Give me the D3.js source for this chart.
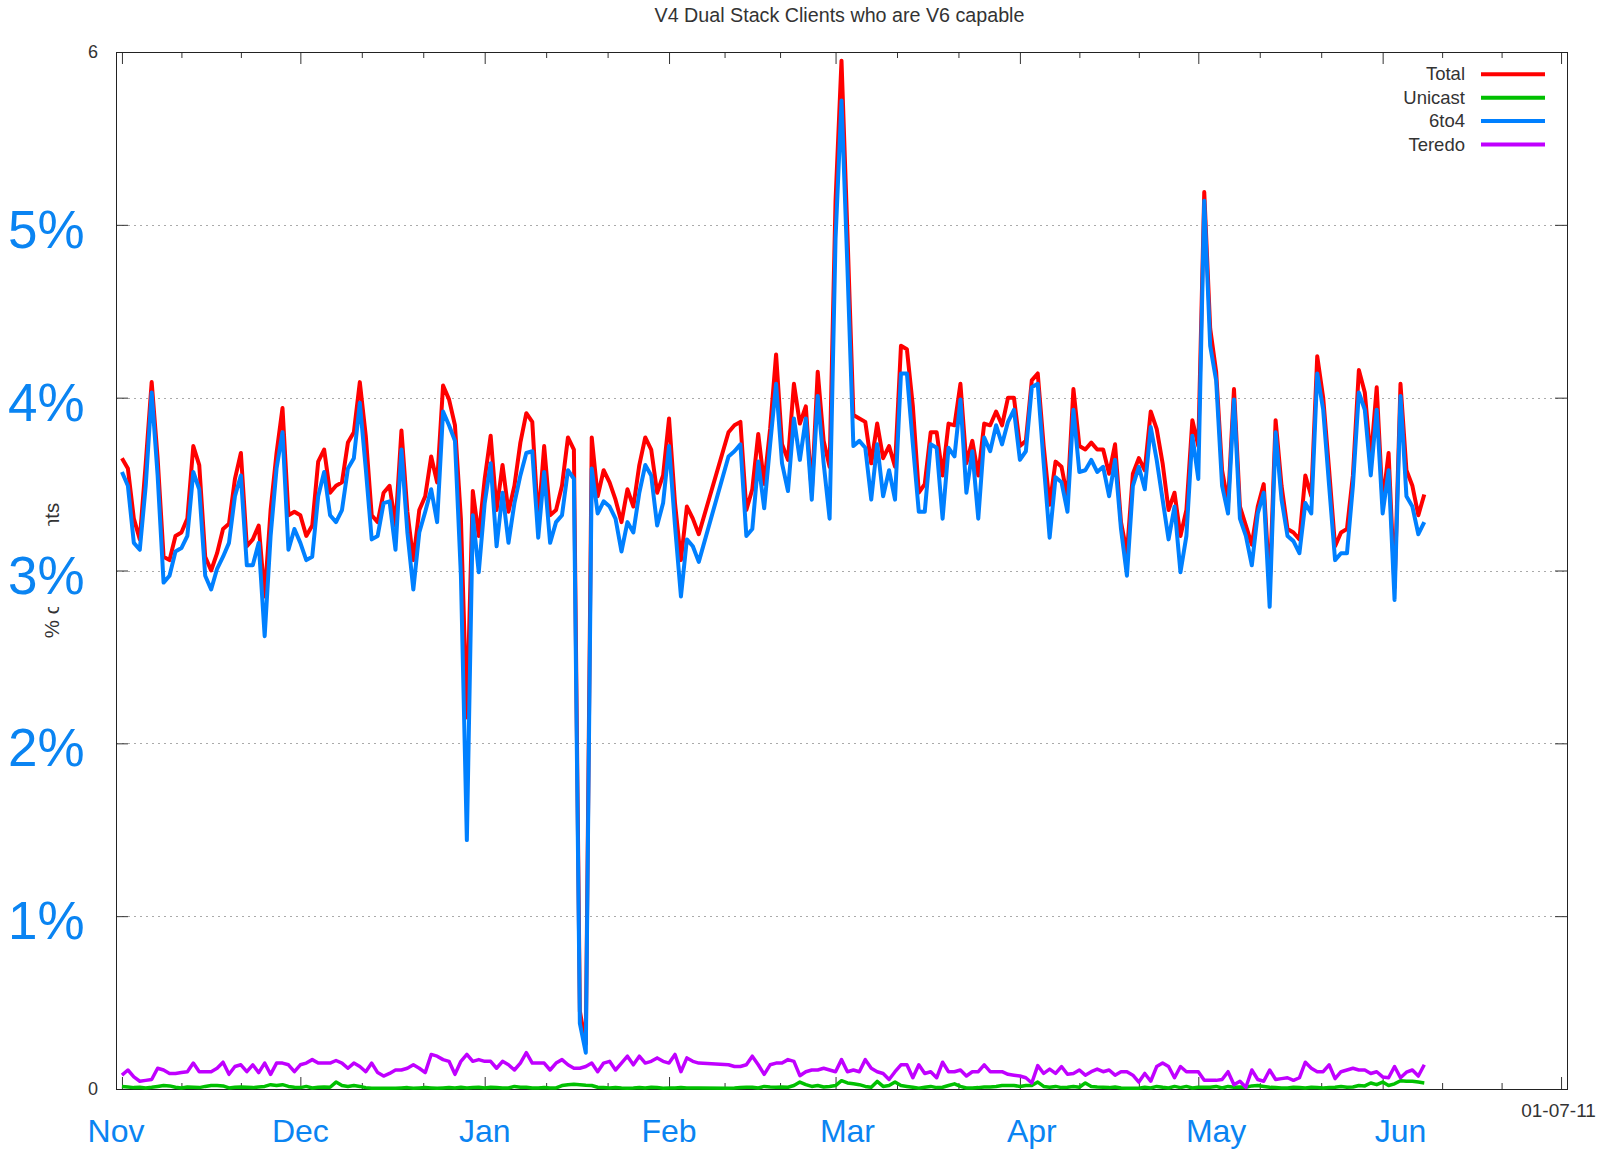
<!DOCTYPE html>
<head>
  <meta charset="utf-8">
  <script src="https://d3js.org/d3.v7.min.js"></script>
  <style>
    body { margin: 0; background: #fff; }
    text { font-family: "Liberation Sans", Arial, sans-serif; }
  </style>
</head>
<body>
<svg width="1614" height="1153"></svg>
<script>

  // daily samples from 1 Nov 2010; days 98..101 (early Feb) are missing, the plot just joins across
  const start = new Date(2010, 10, 1);
  const days = d3.range(0, 98).concat(d3.range(102, 220));

  const total = [
    3.65, 3.59, 3.30, 3.18, 3.62, 4.09, 3.65, 3.08, 3.06, 3.20,
    3.22, 3.30, 3.72, 3.61, 3.08, 3.00, 3.10, 3.24, 3.27, 3.53,
    3.68, 3.14, 3.18, 3.26, 2.85, 3.35, 3.68, 3.94, 3.32, 3.34,
    3.32, 3.20, 3.26, 3.63, 3.70, 3.45, 3.49, 3.51, 3.74, 3.80,
    4.09, 3.78, 3.32, 3.28, 3.45, 3.49, 3.26, 3.81, 3.34, 3.06,
    3.35, 3.43, 3.66, 3.51, 4.07, 3.99, 3.84, 3.30, 2.15, 3.46,
    3.20, 3.53, 3.78, 3.35, 3.61, 3.34, 3.49, 3.74, 3.91, 3.86,
    3.28, 3.72, 3.32, 3.35, 3.49, 3.77, 3.70, 0.45, 0.26, 3.77,
    3.43, 3.58, 3.51, 3.41, 3.28, 3.47, 3.37, 3.61, 3.77, 3.70,
    3.45, 3.55, 3.88, 3.39, 3.06, 3.37, 3.30, 3.21,
    3.80, 3.84, 3.86, 3.35, 3.47, 3.79, 3.50, 3.82,
    4.25, 3.73, 3.64, 4.08, 3.85, 3.95, 3.45, 4.15, 3.75, 3.60,
    5.14, 5.95, 4.95, 3.90, 3.88, 3.86, 3.62, 3.85, 3.65, 3.72,
    3.60, 4.30, 4.28, 3.95, 3.45, 3.50, 3.80, 3.80, 3.55, 3.85,
    3.84, 4.08, 3.62, 3.75, 3.55, 3.85, 3.84, 3.92, 3.84, 4.00,
    4.00, 3.72, 3.75, 4.10, 4.14, 3.72, 3.38, 3.63, 3.60, 3.42,
    4.05, 3.72, 3.70, 3.74, 3.70, 3.70, 3.56, 3.73, 3.28, 3.10,
    3.56, 3.65, 3.58, 3.92, 3.82, 3.62, 3.35, 3.45, 3.20, 3.35,
    3.87, 3.72, 5.19, 4.40, 4.15, 3.58, 3.39, 4.05, 3.37, 3.26,
    3.15, 3.37, 3.50, 2.90, 3.87, 3.49, 3.24, 3.22, 3.18, 3.55,
    3.43, 4.24, 4.00, 3.58, 3.14, 3.22, 3.24, 3.55, 4.16, 4.03,
    3.64, 4.06, 3.39, 3.68, 2.90, 4.08, 3.58, 3.49, 3.32, 3.44
  ];

  const unicast = [
    0.015, 0.012, 0.008, 0.01, 0.006, 0.01, 0.015, 0.02, 0.018, 0.01,
    0.006, 0.012, 0.01, 0.008, 0.015, 0.02, 0.02, 0.018, 0.006, 0.01,
    0.012, 0.01, 0.008, 0.012, 0.015, 0.025, 0.02, 0.025, 0.015, 0.01,
    0.008, 0.015, 0.006, 0.01, 0.012, 0.01, 0.04, 0.02, 0.015, 0.02,
    0.015, 0.008, 0.004, 0.004, 0.004, 0.004, 0.004, 0.006, 0.008, 0.004,
    0.006, 0.008, 0.006, 0.004, 0.006, 0.008, 0.006, 0.01, 0.006, 0.008,
    0.01, 0.006, 0.01, 0.008, 0.006, 0.006, 0.015, 0.01, 0.01, 0.006,
    0.006, 0.008, 0.006, 0.006, 0.02, 0.025, 0.027, 0.025, 0.022, 0.02,
    0.01, 0.008, 0.006, 0.008, 0.006, 0.005, 0.006, 0.008, 0.006, 0.01,
    0.008, 0.005, 0.006, 0.006, 0.008, 0.006, 0.006, 0.006,
    0.005, 0.006, 0.008, 0.01, 0.01, 0.006, 0.015, 0.012,
    0.01, 0.012, 0.01, 0.02, 0.04, 0.025, 0.015, 0.02, 0.012, 0.015,
    0.02, 0.048, 0.035, 0.03, 0.025, 0.015, 0.01, 0.044, 0.015, 0.02,
    0.04, 0.02, 0.015, 0.01, 0.005, 0.01, 0.015, 0.008, 0.01, 0.02,
    0.03, 0.015, 0.006, 0.006, 0.008, 0.012, 0.012, 0.015, 0.02, 0.02,
    0.02, 0.015, 0.02, 0.02, 0.04, 0.015, 0.01, 0.015, 0.008, 0.01,
    0.015, 0.01, 0.035, 0.015, 0.012, 0.01, 0.008, 0.012, 0.006, 0.004,
    0.004, 0.004, 0.01, 0.006, 0.015, 0.01, 0.006, 0.015, 0.008, 0.015,
    0.006, 0.01, 0.01, 0.01, 0.015, 0.006, 0.015, 0.01, 0.012, 0.01,
    0.018, 0.02, 0.015, 0.01, 0.008, 0.006, 0.006, 0.01, 0.008, 0.006,
    0.01, 0.008, 0.006, 0.008, 0.01, 0.015, 0.01, 0.012, 0.02, 0.018,
    0.035, 0.025, 0.04, 0.02, 0.03, 0.048, 0.045, 0.045, 0.04, 0.035
  ];

  const sixToFour = [
    3.57, 3.49, 3.16, 3.12, 3.49, 4.03, 3.55, 2.93, 2.97, 3.11,
    3.13, 3.20, 3.57, 3.47, 2.97, 2.89, 3.01, 3.08, 3.16, 3.43,
    3.55, 3.03, 3.03, 3.16, 2.62, 3.20, 3.59, 3.80, 3.12, 3.24,
    3.16, 3.06, 3.08, 3.43, 3.57, 3.32, 3.28, 3.35, 3.59, 3.65,
    3.97, 3.59, 3.18, 3.20, 3.39, 3.40, 3.12, 3.70, 3.22, 2.89,
    3.22, 3.34, 3.47, 3.28, 3.92, 3.84, 3.75, 2.97, 1.44, 3.32,
    2.99, 3.39, 3.62, 3.14, 3.45, 3.16, 3.39, 3.55, 3.68, 3.69,
    3.19, 3.57, 3.16, 3.28, 3.32, 3.58, 3.53, 0.38, 0.21, 3.59,
    3.33, 3.40, 3.37, 3.30, 3.11, 3.28, 3.22, 3.45, 3.61, 3.55,
    3.26, 3.39, 3.72, 3.26, 2.85, 3.18, 3.14, 3.05,
    3.66, 3.69, 3.73, 3.20, 3.24, 3.63, 3.36, 3.73,
    4.08, 3.62, 3.46, 3.88, 3.64, 3.88, 3.41, 4.01, 3.62, 3.30,
    4.92, 5.72, 4.75, 3.72, 3.75, 3.71, 3.41, 3.73, 3.43, 3.58,
    3.41, 4.14, 4.14, 3.73, 3.34, 3.34, 3.73, 3.71, 3.30, 3.71,
    3.66, 3.99, 3.45, 3.69, 3.30, 3.77, 3.69, 3.84, 3.73, 3.86,
    3.93, 3.64, 3.69, 4.06, 4.08, 3.62, 3.19, 3.54, 3.51, 3.34,
    3.93, 3.57, 3.58, 3.64, 3.57, 3.60, 3.43, 3.64, 3.24, 2.97,
    3.49, 3.60, 3.47, 3.83, 3.64, 3.41, 3.18, 3.37, 2.99, 3.20,
    3.78, 3.53, 5.14, 4.30, 4.10, 3.49, 3.33, 3.99, 3.30, 3.20,
    3.03, 3.33, 3.45, 2.79, 3.80, 3.41, 3.20, 3.17, 3.10, 3.39,
    3.33, 4.14, 3.93, 3.49, 3.06, 3.10, 3.10, 3.49, 4.03, 3.93,
    3.55, 3.93, 3.33, 3.58, 2.83, 4.01, 3.43, 3.37, 3.21, 3.28
  ];

  const teredo = [
    0.08, 0.11, 0.07, 0.045, 0.05, 0.055, 0.12, 0.11, 0.09, 0.09,
    0.095, 0.10, 0.15, 0.10, 0.10, 0.10, 0.12, 0.155, 0.085, 0.13,
    0.14, 0.10, 0.14, 0.095, 0.15, 0.085, 0.15, 0.15, 0.14, 0.10,
    0.14, 0.15, 0.17, 0.15, 0.15, 0.15, 0.165, 0.15, 0.12, 0.15,
    0.13, 0.10, 0.15, 0.095, 0.075, 0.09, 0.11, 0.11, 0.12, 0.14,
    0.12, 0.095, 0.20, 0.19, 0.17, 0.16, 0.085, 0.16, 0.20, 0.16,
    0.17, 0.16, 0.16, 0.12, 0.16, 0.14, 0.11, 0.15, 0.21, 0.15,
    0.15, 0.15, 0.11, 0.15, 0.17, 0.14, 0.12, 0.12, 0.13, 0.15,
    0.10, 0.15, 0.16, 0.11, 0.15, 0.19, 0.14, 0.19, 0.15, 0.16,
    0.18, 0.16, 0.15, 0.20, 0.10, 0.18, 0.16, 0.15,
    0.14, 0.13, 0.13, 0.14, 0.19, 0.14, 0.085, 0.14,
    0.15, 0.15, 0.17, 0.16, 0.077, 0.10, 0.11, 0.11, 0.12, 0.11,
    0.10, 0.17, 0.10, 0.11, 0.10, 0.17, 0.12, 0.10, 0.09, 0.055,
    0.10, 0.14, 0.14, 0.065, 0.14, 0.09, 0.10, 0.065, 0.155, 0.10,
    0.10, 0.11, 0.075, 0.10, 0.10, 0.14, 0.10, 0.10, 0.10, 0.085,
    0.08, 0.075, 0.065, 0.035, 0.135, 0.09, 0.115, 0.09, 0.13, 0.085,
    0.09, 0.11, 0.08, 0.10, 0.115, 0.10, 0.11, 0.08, 0.10, 0.10,
    0.08, 0.04, 0.09, 0.045, 0.13, 0.15, 0.13, 0.065, 0.13, 0.10,
    0.10, 0.10, 0.05, 0.05, 0.05, 0.055, 0.10, 0.025, 0.045, 0.01,
    0.11, 0.055, 0.045, 0.11, 0.055, 0.06, 0.065, 0.05, 0.065, 0.155,
    0.12, 0.10, 0.10, 0.14, 0.06, 0.10, 0.11, 0.12, 0.11, 0.11,
    0.09, 0.10, 0.07, 0.065, 0.13, 0.065, 0.097, 0.11, 0.075, 0.14
  ];

  const seriesNames = ["Total", "Unicast", "6to4", "Teredo"];
  const seriesColors = ["#ff0000", "#00c000", "#0080ff", "#c000ff"];
  const seriesWidths = [4, 3.5, 4, 3.5];

  // big annotation labels laid over the plot
  const monthLabels = ["Nov", "Dec", "Jan", "Feb", "Mar", "Apr", "May", "Jun"];
  const monthAnchors = ["2010-10-31", "2010-12-01", "2011-01-01", "2011-02-01",
                        "2011-03-03", "2011-04-03", "2011-05-04", "2011-06-04"];
  const percentValues = [1, 2, 3, 4, 5];
  const percentLabels = ["1%", "2%", "3%", "4%", "5%"];

  const svg = d3.select("svg"),
    pLeft = 116, pRight = 1567, pTop = 52, pBottom = 1089,
    ink = "#333",
    blue = "#0a84f2";

  svg.append("rect").attr("width", 1614).attr("height", 1153).attr("fill", "#fff");

  let x = d3.scaleTime()
    .domain([d3.timeDay.offset(start, -1), new Date(2011, 6, 2)])
    .range([pLeft, pRight]);
  let y = d3.scaleLinear().domain([0, 6]).range([pBottom, pTop]);

  let months = d3.timeMonth.range(start, new Date(2011, 6, 2));
  let minors = [];
  for (let i = 0; i < months.length - 1; i++) {
    let a = +months[i], b = +months[i + 1];
    minors.push(new Date(a + (b - a) / 3), new Date(a + 2 * (b - a) / 3));
  }

  // dotted grid
  svg.append("g").selectAll("line")
    .data([1, 2, 3, 4, 5])
    .join("line")
    .attr("x1", pLeft).attr("x2", pRight)
    .attr("y1", d => Math.round(y(d)) + 0.5).attr("y2", d => Math.round(y(d)) + 0.5)
    .attr("stroke", "#aaa")
    .attr("stroke-dasharray", "2,4");

  function styleAxis(g) {
    g.select(".domain").remove();
    g.selectAll(".tick line").attr("stroke", ink);
    g.selectAll("text").attr("fill", ink).attr("font-size", 18)
      .attr("font-family", '"Liberation Sans", Arial, sans-serif');
  }

  svg.append("g").attr("transform", `translate(${pLeft},0)`)
    .call(d3.axisLeft(y).tickValues([0, 1, 2, 3, 4, 5, 6]).tickSize(-12).tickPadding(18)
      .tickFormat(d => (d === 0 || d === 6) ? d : ""))
    .call(styleAxis);
  svg.append("g").attr("transform", `translate(${pRight},0)`)
    .call(d3.axisRight(y).tickValues([0, 1, 2, 3, 4, 5, 6]).tickSize(-12).tickFormat(""))
    .call(styleAxis);

  let fmt = d3.timeFormat("%d-%m-%y");
  svg.append("g").attr("transform", `translate(0,${pBottom})`)
    .call(d3.axisBottom(x).tickValues(months).tickSize(-12).tickPadding(15)
      .tickFormat((d, i) => i === months.length - 1 ? fmt(d) : ""))
    .call(styleAxis)
    .call(g => g.selectAll("text").attr("font-size", 19).attr("dx", -3));
  svg.append("g").attr("transform", `translate(0,${pBottom})`)
    .call(d3.axisBottom(x).tickValues(minors).tickSize(-6).tickFormat(""))
    .call(styleAxis);
  svg.append("g").attr("transform", `translate(0,${pTop})`)
    .call(d3.axisTop(x).tickValues(months).tickSize(-12).tickFormat(""))
    .call(styleAxis);
  svg.append("g").attr("transform", `translate(0,${pTop})`)
    .call(d3.axisTop(x).tickValues(minors).tickSize(-6).tickFormat(""))
    .call(styleAxis);

  svg.append("rect")
    .attr("x", pLeft + 0.5).attr("y", pTop + 0.5)
    .attr("width", pRight - pLeft).attr("height", pBottom - pTop)
    .attr("fill", "none").attr("stroke", "#222");

  // series
  let dates = days.map(d => d3.timeDay.offset(start, d));
  let allSeries = [total, unicast, sixToFour, teredo];
  let line = d3.line()
    .x((v, i) => x(dates[i]))
    .y(v => y(v));

  svg.append("g").selectAll("path")
    .data(allSeries)
    .join("path")
    .attr("d", line)
    .attr("fill", "none")
    .attr("stroke", (d, i) => seriesColors[i])
    .attr("stroke-width", (d, i) => seriesWidths[i])
    .attr("stroke-linejoin", "round");

  // legend
  let legend = svg.append("g").selectAll("g")
    .data(seriesNames)
    .join("g")
    .attr("transform", (d, i) => `translate(0,${74.3 + 23.4 * i})`);
  legend.append("text")
    .attr("x", 1465).attr("y", 6)
    .attr("text-anchor", "end")
    .attr("font-size", 18.5).attr("fill", ink)
    .text(d => d);
  legend.append("line")
    .attr("x1", 1481).attr("x2", 1545)
    .attr("stroke", (d, i) => seriesColors[i])
    .attr("stroke-width", 4);

  // title and y label
  svg.append("text")
    .attr("x", (pLeft + pRight) / 2 - 2).attr("y", 22)
    .attr("text-anchor", "middle")
    .attr("font-size", 19.7).attr("fill", ink)
    .text("V4 Dual Stack Clients who are V6 capable");

  svg.append("text")
    .attr("transform", `translate(59,${(pTop + pBottom) / 2}) rotate(-90)`)
    .attr("text-anchor", "middle")
    .attr("font-size", 20.5).attr("fill", ink)
    .text("% of V4 clients");

  // white patch behind the 3% label, hides the middle of the axis title
  svg.append("rect")
    .attr("x", 28).attr("y", 526).attr("width", 50).attr("height", 81)
    .attr("fill", "#fff");

  svg.append("g").selectAll("text")
    .data(percentValues)
    .join("text")
    .attr("x", 8)
    .attr("y", d => y(d) + 23)
    .attr("font-size", 53)
    .attr("fill", blue)
    .text((d, i) => percentLabels[i]);

  svg.append("g").selectAll("text")
    .data(monthLabels)
    .join("text")
    .attr("x", (d, i) => x(d3.timeParse("%Y-%m-%d")(monthAnchors[i])))
    .attr("y", 1142)
    .attr("text-anchor", "middle")
    .attr("font-size", 32)
    .attr("fill", blue)
    .text(d => d);

</script>
</body>
